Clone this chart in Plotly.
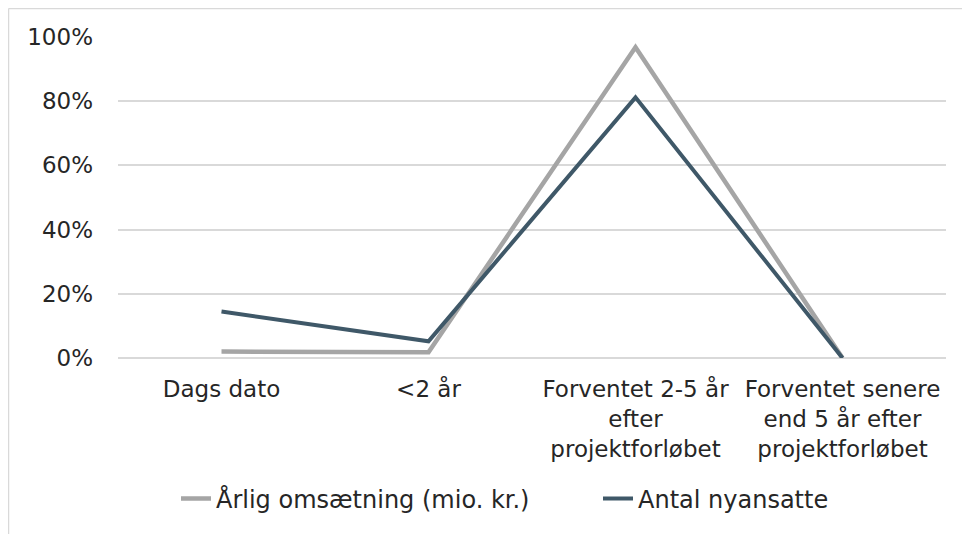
import plotly.graph_objects as go

categories = ["Dags dato", "<2 år", "Forventet 2-5 år<br>efter<br>projektforløbet",
              "Forventet senere<br>end 5 år efter<br>projektforløbet"]
omsaetning = [0.020, 0.018, 0.968, 0.0]
nyansatte = [0.145, 0.052, 0.812, 0.0]
series_names = ["Årlig omsætning (mio. kr.)", "Antal nyansatte"]
y_ticks = [0, 0.2, 0.4, 0.6, 0.8, 1.0]
y_ticktext = ["0%", "20%", "40%", "60%", "80%", "100%"]

# page has an 8px body margin; work in page pixels and convert
OFF = 8
W, H = 970 - OFF, 534 - OFF
L, T = 118 - OFF, 37 - OFF
pw, ph = 828, 321
R = W - L - pw
B = H - T - ph

def px_x(px):
    return (px - OFF - L) / pw

def px_y(py):
    return (T + ph - (py - OFF)) / ph

FONT = "DejaVu Sans"
FS = 23
FS_LEG = 24
TXT = "#262626"
fig = go.Figure()
fig.add_trace(go.Scatter(x=categories, y=omsaetning, name=series_names[0], mode="lines",
                         line=dict(color="#A5A5A5", width=4.5), legend="legend"))
fig.add_trace(go.Scatter(x=categories, y=nyansatte, name=series_names[1], mode="lines",
                         line=dict(color="#3F5868", width=4), legend="legend2"))

leg_common = dict(orientation="h", yanchor="middle", xanchor="left",
                  font=dict(family=FONT, size=FS_LEG, color=TXT), bgcolor="rgba(0,0,0,0)")
fig.update_layout(
    width=W, height=H,
    margin=dict(l=L, r=R, t=T, b=B, autoexpand=False),
    paper_bgcolor="white", plot_bgcolor="white",
    font=dict(family=FONT, size=FS, color=TXT),
    showlegend=True,
    legend=dict(x=px_x(176), y=px_y(499), **leg_common),
    legend2=dict(x=px_x(598), y=px_y(499), **leg_common),
    shapes=[
        dict(type="line", xref="paper", yref="paper", x0=px_x(8.5), x1=px_x(990),
             y0=px_y(8.5), y1=px_y(8.5), line=dict(color="#D9D9D9", width=1.5)),
        dict(type="line", xref="paper", yref="paper", x0=px_x(8.5), x1=px_x(8.5),
             y0=px_y(8.5), y1=px_y(560), line=dict(color="#D9D9D9", width=1.5)),
    ],
)
fig.update_xaxes(type="category", range=[-0.5, len(categories) - 0.5],
                 showgrid=False, zeroline=False, showline=False,
                 ticks="", tickfont=dict(family=FONT, size=FS, color=TXT),
                 ticklabelstandoff=15, automargin=False)
fig.update_yaxes(range=[0, 1], tickvals=y_ticks, ticktext=y_ticktext,
                 showgrid=True, gridcolor="#D9D9D9", gridwidth=1.5,
                 zeroline=True, zerolinecolor="#D9D9D9", zerolinewidth=1.5,
                 showline=False, ticks="", ticklabelstandoff=24, automargin=False,
                 tickfont=dict(family=FONT, size=FS, color=TXT))

fig.write_html("out.html")
